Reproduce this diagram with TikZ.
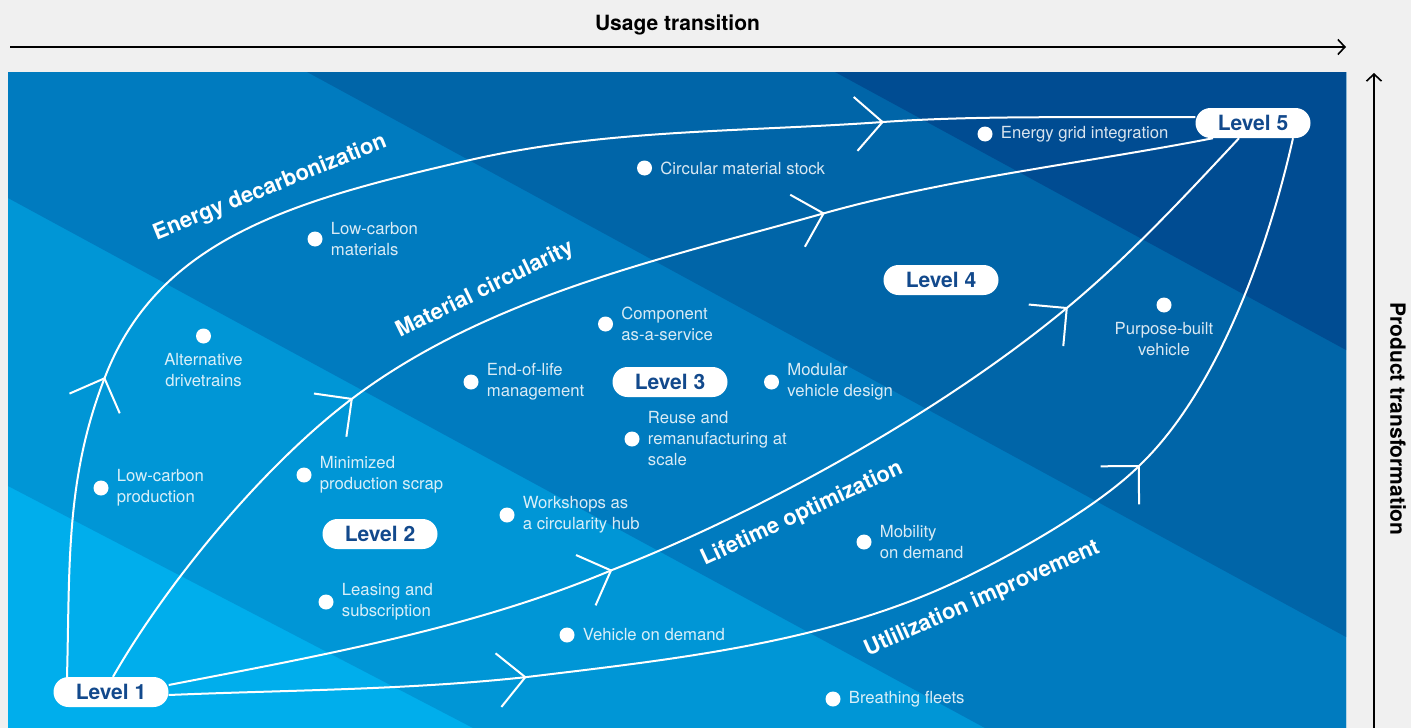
\documentclass[tikz,border=0pt]{standalone}
\usepackage{fontspec}
\setmainfont{TeX Gyre Heros}
\usetikzlibrary{positioning,arrows.meta,decorations.markings}

\definecolor{bggray}{RGB}{240,240,240}
\definecolor{bandA}{RGB}{0,174,236}
\definecolor{bandB}{RGB}{0,150,214}
\definecolor{bandC}{RGB}{0,123,191}
\definecolor{bandD}{RGB}{0,101,168}
\definecolor{bandE}{RGB}{0,76,146}
\definecolor{lvlblue}{RGB}{18,73,140}

\tikzset{
  lvlbox/.style={fill=white,text=lvlblue,rounded corners=15pt,minimum width=115pt,minimum height=30pt,inner sep=0pt,font=\fontsize{21}{21}\selectfont\bfseries},
  bul/.style={circle,fill=white,inner sep=0pt,minimum size=15pt},
  itemtxt/.style={text=white,text opacity=0.85,inner sep=0pt,align=left,font=\fontsize{16.7}{21}\selectfont},
  flowlabel/.style={text=white,inner sep=0pt,font=\fontsize{22}{22}\selectfont\bfseries},
  axislabel/.style={inner sep=0pt,font=\fontsize{21}{21}\selectfont\bfseries},
  flow/.style 2 args={draw=white,line width=2pt,decoration={markings,
      mark=at position #1 with {\arrow{>}},mark=at position #2 with {\arrow{>}}},
    postaction={decorate}},
  axarrow/.style={line width=1.6pt,-{Straight Barb[length=7pt,width=15pt]}}
}

\begin{document}
\begin{tikzpicture}[x=1pt,y=-1pt,>={Straight Barb[length=27pt,width=54pt]}]
    \useasboundingbox (0,0) rectangle (1411,728);
    \fill[bggray] (0,0) rectangle (1411,728);

    % diagonal bands
    \begin{scope}
    \clip (8,72) rectangle (1346,728);
    \fill[bandA] (8,72) rectangle (1346,728);
    \fill[bandB] (8,486) -- (473,728) -- (1346,728) -- (1346,72) -- (8,72) -- cycle;
    \fill[bandC] (8,198) -- (985,728) -- (1346,728) -- (1346,72) -- (8,72) -- cycle;
    \fill[bandD] (307,72) -- (1346,637) -- (1346,72) -- cycle;
    \fill[bandE] (835,72) -- (1346,350) -- (1346,72) -- cycle;
    \end{scope}

    % axes
    \coordinate (ux0) at (10,47);
    \coordinate (ux1) at (1346,47);
    \draw[axarrow] (ux0) -- (ux1);
    \node[axislabel,anchor=base] (ut) at (677.5,30) {Usage transition};
    \coordinate (px0) at (1374,728);
    \coordinate (px1) at (1374,73);
    \draw[axarrow] (px0) -- (px1);
    \node[axislabel,rotate=-90] (pt) at (1398,419) {Product transformation};

    % levels
    \node[lvlbox] (L1) at (111,692) {Level 1};
    \node[lvlbox] (L2) at (380,534) {Level 2};
    \node[lvlbox] (L3) at (670,382) {Level 3};
    \node[lvlbox] (L4) at (941,280) {Level 4};
    \node[lvlbox] (L5) at (1253,123) {Level 5};

    % paths from level 1 to level 5
    \draw[flow={0.206}{0.789}] ([xshift=-44pt]L1.north)
        .. controls (70,567) and (65,479) .. (105,377)
        .. controls (159,237.5) and (295,200) .. (470,160)
        .. controls (606,129) and (744,132) .. (883,122)
        .. controls (982,115) and (1095,118) .. ([yshift=6pt]L5.west);
    \draw[flow={0.290}{0.690}] ([xshift=2pt]L1.north)
        .. controls (168,581) and (265,464) .. (353,398)
        .. controls (489,296) and (662,259) .. (825,213)
        .. controls (950,178) and (1086,163) .. ([xshift=-40pt]L5.south);
    \draw[flow={0.374}{0.804}] ([yshift=7pt]L1.east)
        .. controls (315.5,656.5) and (474,628.5) .. (612,570)
        .. controls (751,516) and (937,416) .. (1068,307)
        .. controls (1129.6,255.8) and (1184.6,196.4) .. ([xshift=-14pt]L5.south);
    \draw[flow={0.259}{0.736}] ([yshift=-3pt]L1.east)
        .. controls (288,690) and (408,690) .. (527,677)
        .. controls (665.6,660.2) and (812,645) .. (940,589)
        .. controls (1004,561) and (1098,507.4) .. (1140,465)
        .. controls (1219,389) and (1269,245) .. ([xshift=40pt]L5.south);

    \node[flowlabel,rotate=22] (fe) at (270,188) {Energy decarbonization};
    \node[flowlabel,rotate=26] (fm) at (485,290) {Material circularity};
    \node[flowlabel,rotate=25] (fl) at (802,514) {Lifetime optimization};
    \node[flowlabel,rotate=24] (fu) at (982,599) {Utlilization improvement};

    % items
    \node[bul] (egi) at (985,134) {};
    \node[itemtxt,right=8pt of egi] (tegi) {Energy grid integration};
    \node[bul] (cms) at (644.5,168) {};
    \node[itemtxt,right=8pt of cms] (tcms) {Circular material stock};
    \node[bul] (lcm) at (315,239) {};
    \node[itemtxt,right=8pt of lcm] (tlcm) {Low-carbon\\materials};
    \node[bul] (adt) at (203.5,336) {};
    \node[itemtxt,align=center,below=9pt of adt] (tadt) {Alternative\\drivetrains};
    \node[bul] (lcp) at (101,488) {};
    \node[itemtxt,right=8pt of lcp] (tlcp) {Low-carbon\\production};
    \node[bul] (mps) at (304,475) {};
    \node[itemtxt,right=8pt of mps] (tmps) {Minimized\\production scrap};
    \node[bul] (las) at (326,602) {};
    \node[itemtxt,right=8pt of las] (tlas) {Leasing and\\subscription};
    \node[bul] (wch) at (507,515) {};
    \node[itemtxt,right=8pt of wch] (twch) {Workshops as\\a circularity hub};
    \node[bul] (vod) at (567,635) {};
    \node[itemtxt,right=8pt of vod] (tvod) {Vehicle on demand};
    \node[bul] (bf) at (833,699) {};
    \node[itemtxt,right=8pt of bf] (tbf) {Breathing fleets};
    \node[bul] (mod) at (864,542) {};
    \node[itemtxt,right=8pt of mod] (tmod) {Mobility\\on demand};
    \node[bul] (eol) at (471,382) {};
    \node[itemtxt,right=8pt of eol] (teol) {End-of-life\\management};
    \node[bul] (caas) at (605.5,324) {};
    \node[itemtxt,right=8pt of caas] (tcaas) {Component\\as-a-service};
    \node[bul] (mvd) at (771.5,382) {};
    \node[itemtxt,right=8pt of mvd] (tmvd) {Modular\\vehicle design};
    \node[bul] (rrs) at (632,439) {};
    \node[itemtxt,right=8pt of rrs] (trrs) {Reuse and\\remanufacturing at\\scale};
    \node[bul] (pbv) at (1164,305) {};
    \node[itemtxt,align=center,below=9pt of pbv] (tpbv) {Purpose-built\\vehicle};
\end{tikzpicture}
\end{document}
